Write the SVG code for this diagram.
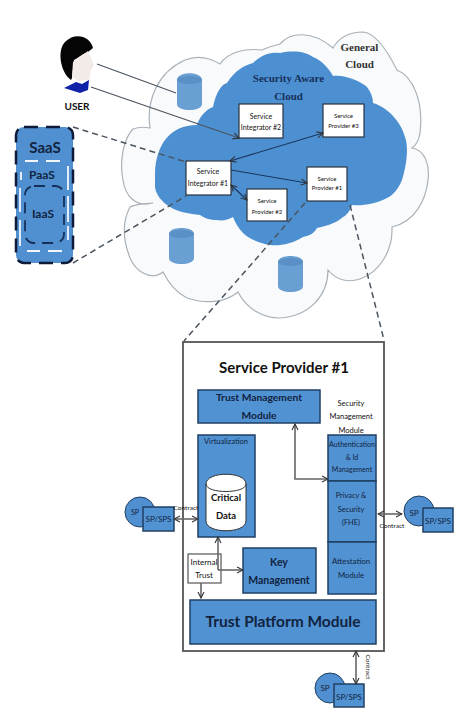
<svg xmlns="http://www.w3.org/2000/svg" width="471" height="714" viewBox="0 0 471 714">
<style>
text{font-family:"Liberation Serif",serif;text-anchor:middle;fill:#111}
.s{font-family:Lato,"Liberation Sans",sans-serif}
.n{font-family:Lato,"Liberation Sans",sans-serif;fill:#12233f}
.b{fill:#5092d2;stroke:#1f3f63;stroke-width:1.5}
.w{fill:#fff;stroke:#2a3240;stroke-width:1.2}
.c{fill:none;stroke:#4a5360;stroke-width:1.1}
.nv{stroke:#18365e}
.d{fill:none;stroke:#4a5560;stroke-width:1.5;stroke-dasharray:6 4}
.g{fill:none;stroke:#666;stroke-width:1.6}
.db{fill:#6a9fd3}
</style>
<defs>
<marker id="a" markerWidth="8" markerHeight="8" refX="7" refY="4" orient="auto-start-reverse" markerUnits="userSpaceOnUse"><path d="M1 1L7 4L1 7" fill="none" stroke="#333" stroke-width="1.1"/></marker>
</defs>
<rect width="471" height="714" fill="#fff"/>
<g id="general-cloud">
<path d="M150 128C146 100 158 72 185 60C198 55 210 58 220 64C228 52 245 48 262 50C268 47 274 46 280 44C290 32 312 30 333 48C340 36 350 32 363 32C376 33 388 52 397 70C412 76 424 100 420 133C419 140 416 145 412 148C425 150 430 165 428 180C426 200 415 222 392 227C393 250 380 272 360 279C348 283 336 280 328 270C328 295 310 316 280 318C262 318 246 308 238 292C225 303 205 304 187 298C175 292 168 282 163 272C150 282 135 270 130 258C123 240 122 222 130 207C137 203 145 204 153 203C135 208 125 195 123 180C119 160 124 138 133 129C138 127 145 127 150 128Z" fill="#f8fafb" stroke="#a9b1b8" stroke-width="1.200"/>
</g>
<g id="security-cloud">
<path d="M155 173C156 145 170 125 197 125C199 118 205 110 213 107C216 92 222 84 227 83C235 70 245 65 253 63C262 54 272 52 280 53C295 50 306 52 313 57C322 60 330 70 333 76C345 74 362 82 367 87C371 92 373 98 373 103C390 108 402 125 405 137C408 145 408 160 402 180C398 190 392 196 387 198C376 204 362 206 352 205C350 211 346 216 343 217C335 224 325 226 317 228C314 234 308 236 303 237C292 244 280 246 270 245C258 243 248 238 243 233C238 228 235 222 233 217C228 220 222 221 217 220C210 220 204 218 200 215C190 214 178 212 170 207C162 202 156 195 155 187Z" fill="#4d90d2"/>
</g>
<g id="db1"><path class="db" d="M177 80C177 71 202 71 202 80V104C202 112 177 112 177 104Z"/><ellipse cx="189.500" cy="80" rx="12.500" ry="4" fill="#5b90c6"/></g>
<g id="db2"><path class="db" d="M169 234C169 226 194 226 194 234V258C194 266 169 266 169 258Z"/><ellipse cx="181.500" cy="234" rx="12.500" ry="4" fill="#5b90c6"/></g>
<g id="db3"><path class="db" d="M278 262C278 254 303 254 303 262V286C303 294 278 294 278 286Z"/><ellipse cx="290.500" cy="262" rx="12.500" ry="4" fill="#5b90c6"/></g>
<g id="user">
<path d="M71 80C60 72 57 50 65 42C75 32 90 36 93 48L88 52C82 54 78 58 74 60L72 78Z" fill="#050505"/>
<path d="M73 62C78 58 84 54 88 51L92 60L94 65L91 70L89 80L78 81L72 76Z" fill="#f3ebe8"/>
<path d="M64 88L76 82L82 84L89 80L88 90L80 93Z" fill="#0f22a8"/>
<text class="s" x="77" y="110" font-size="10" font-weight="bold" fill="#222">USER</text>
</g>
<g id="stack">
<rect x="16" y="127" width="57" height="136" rx="8" fill="#5090d0" stroke="#0d1a38" stroke-width="2.500" stroke-dasharray="14 8"/>
<path d="M25 161H38M46 161H60M21 172V180M68 166V190M68 196V222M68 226V240M20 188V212M20 220V246M27 251H40M48 251H62" fill="none" stroke="#f2f6fb" stroke-width="1.800"/>
<rect x="25" y="186" width="39" height="57" rx="9" fill="none" stroke="#16305a" stroke-width="1.800" stroke-dasharray="11 7"/>
<text class="n" x="45" y="153" font-size="15" font-weight="bold">SaaS</text>
<text class="n" x="42" y="179" font-size="12" font-weight="bold">PaaS</text>
<text class="n" x="43" y="218" font-size="12" font-weight="bold">IaaS</text>
</g>
<g id="service-integrator-2"><rect class="w" x="239" y="104" width="44" height="34"/><text class="s" x="261" y="119" font-size="7">Service</text><text class="s" x="261" y="130" font-size="7">Integrator #2</text></g>
<g id="service-provider-3"><rect class="w" x="323" y="104" width="41" height="33"/><text class="s" x="343.500" y="118" font-size="6">Service</text><text class="s" x="343.500" y="128" font-size="6">Provider #3</text></g>
<g id="service-integrator-1"><rect class="w" x="186" y="161" width="45" height="34"/><text class="s" x="208" y="174" font-size="7">Service</text><text class="s" x="208" y="186" font-size="7">Integrator #1</text></g>
<g id="service-provider-1"><rect class="w" x="307" y="167" width="40" height="34"/><text class="s" x="327" y="181" font-size="6">Service</text><text class="s" x="327" y="190" font-size="6">Provider #1</text></g>
<g id="service-provider-2"><rect class="w" x="247" y="189" width="40" height="32"/><text class="s" x="267" y="203" font-size="6">Service</text><text class="s" x="267" y="214" font-size="6">Provider #2</text></g>
<text x="359.500" y="51" font-size="11" font-weight="bold" style="fill:#333">General</text>
<text x="359.500" y="68" font-size="11" font-weight="bold" style="fill:#333">Cloud</text>
<text x="288.500" y="82" font-size="11" font-weight="bold" style="fill:#17305c">Security Aware</text>
<text x="288.500" y="100" font-size="11" font-weight="bold" style="fill:#17305c">Cloud</text>
<g id="service-provider-detail">
<rect x="183" y="342" width="201" height="309" fill="#fff" stroke="#555" stroke-width="1.800"/>
<text class="s" x="284" y="373" font-size="15" font-weight="bold" fill="#1a1a1a">Service Provider #1</text>
<g id="trust-management"><rect class="b" x="198" y="390" width="122" height="33"/><text class="n" x="259" y="401" font-size="10.300" font-weight="bold">Trust Management</text><text class="n" x="259" y="419" font-size="10.300" font-weight="bold">Module</text></g>
<text class="s" x="351" y="406" font-size="7.500">Security</text>
<text class="s" x="351" y="419" font-size="7.500">Management</text>
<text class="s" x="351" y="433" font-size="7.500">Module</text>
<g id="virtualization"><rect class="b" x="198" y="435" width="57" height="102"/><text class="n" x="226" y="444" font-size="7.500">Virtualization</text>
<path d="M206 484C206 471 246 471 246 484V521C246 534 206 534 206 521Z" fill="#fff" stroke="#333"/><path d="M206 484C206 494 246 494 246 484" fill="none" stroke="#333"/>
<text class="s" x="226" y="501" font-size="9.500" font-weight="bold" fill="#111">Critical</text><text class="s" x="226" y="519" font-size="9.500" font-weight="bold" fill="#111">Data</text></g>
<g id="security-module">
<rect class="b" x="328" y="435" width="48" height="46"/>
<rect class="b" x="328" y="481" width="48" height="61"/>
<rect class="b" x="328" y="542" width="48" height="52"/>
<text class="n" x="352" y="447" font-size="7">Authentication</text><text class="n" x="352" y="460" font-size="7">&amp; Id</text><text class="n" x="352" y="472" font-size="7">Management</text>
<text class="n" x="351" y="498" font-size="7.400">Privacy &amp;</text><text class="n" x="351" y="512" font-size="7.400">Security</text><text class="n" x="351" y="525" font-size="7.400">(FHE)</text>
<text class="n" x="351" y="564" font-size="7.800">Attestation</text><text class="n" x="351" y="578" font-size="7.800">Module</text>
</g>
<g id="internal-trust"><rect x="188" y="554" width="33" height="29" fill="#fff" stroke="#555" stroke-width="1.200"/><text class="s" x="204" y="565" font-size="8">Internal</text><text class="s" x="204" y="578" font-size="8">Trust</text></g>
<g id="key-management"><rect class="b" x="243" y="548" width="73" height="45"/><text class="n" x="279" y="566" font-size="10.500" font-weight="bold">Key</text><text class="n" x="279" y="584" font-size="10.500" font-weight="bold">Management</text></g>
<g id="trust-platform"><rect class="b" x="190" y="600" width="186" height="44"/><text class="n" x="283" y="627" font-size="15.500" font-weight="bold">Trust Platform Module</text></g>
</g>
<g id="sp-left"><circle cx="140" cy="512" r="15" fill="#5090d0" stroke="#1f3f63"/><text class="n" x="135" y="515" font-size="7">SP</text><rect class="b" x="143" y="507" width="31" height="24"/><text class="n" x="158.500" y="522" font-size="8">SP/SPS</text></g>
<text class="s" x="186" y="510" font-size="6.500">Contract</text>
<g id="sp-right"><circle cx="419" cy="511" r="15" fill="#5090d0" stroke="#1f3f63"/><text class="n" x="414" y="516" font-size="8">SP</text><rect class="b" x="423" y="508" width="30" height="24"/><text class="n" x="438" y="524" font-size="8">SP/SPS</text></g>
<text class="s" x="392" y="528" font-size="6.500">Contract</text>
<g id="sp-bottom"><circle cx="330" cy="688" r="15" fill="#5090d0" stroke="#1f3f63"/><text class="n" x="325" y="691" font-size="8">SP</text><rect class="b" x="334" y="684" width="30" height="23"/><text class="n" x="349" y="700" font-size="8">SP/SPS</text></g>
<text class="s" transform="translate(366 667) rotate(90)" font-size="6.500">Contract</text>
<g id="connectors">
<path class="c" d="M97 64L176 93M91 87L239 138" marker-end="url(#a)"/>
<path class="c nv" d="M230 161L323 133" marker-start="url(#a)" marker-end="url(#a)"/>
<path class="c nv" d="M231 170L307 183" marker-end="url(#a)"/>
<path class="c nv" d="M231 185L247 200" marker-start="url(#a)" marker-end="url(#a)"/>
<path class="d" d="M73 127L186 162M73 263L186 196M350 205L384 340M305 203L184 341"/>
<path class="g" d="M295 424V479H328" marker-start="url(#a)" marker-end="url(#a)"/>
<path class="g" d="M174 519H198" marker-start="url(#a)" marker-end="url(#a)"/>
<path class="g" d="M378 514H402" marker-start="url(#a)" marker-end="url(#a)"/>
<path class="g" d="M218 570V537" marker-end="url(#a)"/>
<path class="g" d="M218 570H243" marker-end="url(#a)"/>
<path class="g" d="M201 583V598" marker-end="url(#a)"/>
<path class="g" d="M356 651V684" marker-start="url(#a)" marker-end="url(#a)"/>
</g>
</svg>
